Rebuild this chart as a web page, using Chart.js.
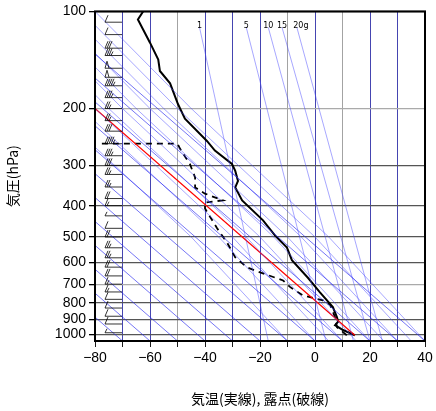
<!DOCTYPE html>
<html lang="ja">
<head>
<meta charset="UTF-8">
<script src="https://cdn.jsdelivr.net/npm/chart.js"></script>
<style>
  body { margin: 0; background: #fff; }
  canvas { display: block; }
</style>
</head>
<body>
<canvas id="chart" width="436" height="411"></canvas>
<script>
// 気温 (実線)
const tempP = [100, 106, 125, 141, 153, 167, 194, 215, 252, 270, 297, 312, 335, 351, 385, 444, 495, 539, 590, 670, 742, 824, 887, 915, 938, 971, 1008];
const tempT = [-62.5, -64.4, -60, -57, -56.4, -52.7, -49.8, -47.3, -39.3, -36.4, -30.2, -29, -28, -29, -26.5, -18.9, -14.5, -10.2, -8.4, -2.5, 1.8, 6.5, 8, 8.4, 7.3, 10.2, 14.5];
// 露点 (破線)
const dewP = [257, 257, 267, 297, 327, 351, 367, 385, 391, 408, 470, 520, 578, 621, 635, 682, 715, 758, 786, 811, 887, 952, 1008];
const dewT = [-77.5, -50, -49, -45.5, -43.6, -43.6, -40, -33.5, -40, -40, -35.6, -32, -29, -24.7, -21.8, -11.6, -9, -4.4, 2.9, 5.5, 7.3, 8, 11.6];
// 持ち上げ曲線 (赤)
const parcelP = [1008, 200];
const parcelT = [14.5, -80];
// 背景の線
const dryT0 = [-150, -140, -130, -120, -110, -100, -90, -80, -70, -60, -50, -40, -30, -20, -10, 0, 10, 20, 30, 40];
const moistT0 = [-10, 0, 5, 10, 15, 20, 25, 30, 35, 40];
const mixLabels = ['1', '5', '10', '15', '20g'];
const mixBottomT = [-17, 4, 14, 20, 24.5];
const mixTopT = [-42, -25, -17, -12, -6.6];
const pTicks = [100, 200, 300, 400, 500, 600, 700, 800, 900, 1000];
const xTicks = [-80, -60, -40, -20, 0, 20, 40];
// 風 (左側の矢羽)
const windP = [108, 118, 130, 137, 150, 160, 170, 185, 200, 218, 235, 257, 280, 300, 320, 350, 380, 400, 430, 470, 500, 540, 580, 620, 660, 700, 740, 780, 830, 880, 930, 990];
const windKt = [10, 10, 30, 35, 50, 50, 45, 35, 25, 25, 30, 45, 35, 30, 25, 25, 20, 15, 5, 10, 20, 25, 25, 20, 20, 15, 15, 10, 10, 10, 10, 5];

const zip = (ps, ts) => ps.map((p, i) => ({ x: ts[i], y: p }));
const blueLine = (pts, col) => ({ data: pts, showLine: true, borderColor: col, borderWidth: 0.8, pointRadius: 0, fill: false });

const datasets = [];
const slope = 135; // °C per log10 decade
dryT0.forEach(t => datasets.push(blueLine([{ x: t, y: 1050 }, { x: t - slope * Math.log10(1050 / 100), y: 100 }], 'rgba(40,40,240,0.8)')));
moistT0.forEach(t => datasets.push(blueLine([{ x: t, y: 1050 }, { x: t - 35, y: 500 }, { x: t - 85, y: 200 }, { x: t - 120, y: 100 }], 'rgba(70,70,255,0.6)')));
mixBottomT.forEach((t, i) => datasets.push(blueLine([{ x: t, y: 1050 }, { x: mixTopT[i], y: 112 }], 'rgba(70,70,255,0.6)')));
datasets.push({ data: zip(parcelP, parcelT), showLine: true, borderColor: 'red', borderWidth: 1.2, pointRadius: 0 });
datasets.push({ data: zip(dewP, dewT), showLine: true, borderColor: '#000', borderWidth: 1.8, borderDash: [6, 5], pointRadius: 0 });
datasets.push({ data: zip(tempP, tempT), showLine: true, borderColor: '#000', borderWidth: 2, pointRadius: 0 });

const gridX = v => (v === -50 || v === -10 || v === 10) ? '#999' : '#3030a8';
const gridY = v => v === 100 ? '#000' : (v === 200 || v === 700) ? '#aaa' : '#555';

const overlay = {
  id: 'overlay',
  afterDatasetsDraw(chart) {
    const { ctx, chartArea: a, scales } = chart;
    ctx.save();
    ctx.beginPath();
    ctx.rect(a.left, a.top, a.right - a.left, a.bottom - a.top);
    ctx.clip();
    // 矢羽
    ctx.strokeStyle = '#000';
    ctx.lineWidth = 0.8;
    windP.forEach((p, i) => {
      const y = scales.y.getPixelForValue(p);
      const x0 = a.left + 27, x1 = a.left + 10;
      ctx.beginPath();
      ctx.moveTo(x0, y); ctx.lineTo(x1, y);
      let kt = windKt[i], x = x1;
      while (kt >= 50) { ctx.moveTo(x, y); ctx.lineTo(x + 2, y - 7); ctx.lineTo(x + 4, y); kt -= 50; x += 5; }
      while (kt >= 10) { ctx.moveTo(x, y); ctx.lineTo(x + 3, y - 7); kt -= 10; x += 2; }
      if (kt >= 5) { ctx.moveTo(x, y); ctx.lineTo(x + 2, y - 4); }
      ctx.stroke();
    });
    ctx.restore();
    // 混合比ラベル
    ctx.save();
    ctx.fillStyle = '#000';
    ctx.font = '8px "DejaVu Sans"';
    ctx.textAlign = 'center';
    mixLabels.forEach((s, i) => {
      ctx.fillText(s, scales.x.getPixelForValue(mixTopT[i]) + (i === 4 ? 4 : 0), scales.y.getPixelForValue(110) + 3);
    });
    // 枠
    ctx.strokeStyle = '#000';
    ctx.lineWidth = 2;
    ctx.strokeRect(a.left, a.top, a.right - a.left, a.bottom - a.top);
    ctx.restore();
  }
};

new Chart(document.getElementById('chart'), {
  type: 'scatter',
  data: { datasets },
  plugins: [overlay],
  options: {
    responsive: false,
    animation: false,
    layout: { padding: { top: 10, right: 11, left: 0, bottom: 0 } },
    plugins: { legend: { display: false }, tooltip: { enabled: false } },
    scales: {
      x: {
        type: 'linear', min: -80, max: 40,
        afterBuildTicks: s => { s.ticks = [-80, -70, -60, -50, -40, -30, -20, -10, 0, 10, 20, 30, 40].map(v => ({ value: v })); },
        afterFit: s => { s.height = 70; },
        ticks: {
          color: '#000', font: { size: 14, family: 'Liberation Sans' }, maxRotation: 0, autoSkip: false,
          callback: v => xTicks.includes(v) ? String(v).replace('-', '−') : ''
        },
        grid: { color: c => gridX(c.tick.value), lineWidth: 0.9, tickLength: 6, tickColor: '#000' },
        title: { display: true, text: '気温(実線), 露点(破線)', color: '#000', font: { size: 14, family: 'Noto Sans CJK JP' }, padding: { top: 12 } }
      },
      y: {
        type: 'logarithmic', min: 100, max: 1050, reverse: true,
        afterBuildTicks: s => { s.ticks = pTicks.map(v => ({ value: v })); },
        afterFit: s => { s.width = 95; },
        ticks: { color: '#000', font: { size: 14, family: 'Liberation Sans' }, autoSkip: false, callback: v => String(v) },
        grid: { color: c => gridY(c.tick.value), lineWidth: 1.3, tickLength: 6, tickColor: '#000' },
        title: { display: true, text: '気圧(hPa)', color: '#000', font: { size: 14, family: 'Noto Sans CJK JP' }, padding: { bottom: 4 } }
      }
    }
  }
});
</script>
</body>
</html>
